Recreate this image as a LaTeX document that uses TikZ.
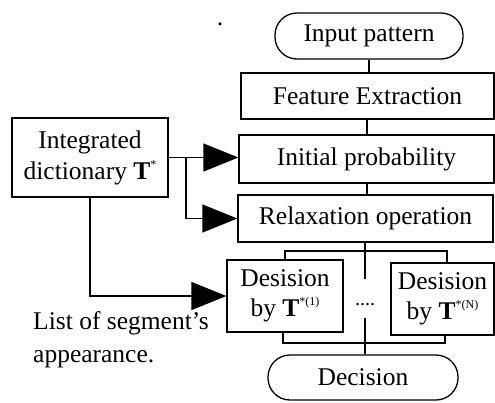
\documentclass[tikz,border=0pt]{standalone}
\usepackage{fontspec}
\setmainfont{Liberation Serif}
\usetikzlibrary{arrows.meta}
\newcommand{\tsup}[1]{\textbf{T}\raisebox{0.42em}{\fontsize{12}{12}\selectfont #1}}
\begin{document}
\begin{tikzpicture}[x=1pt,y=-1pt,
  every node/.style={font=\fontsize{25.5}{31}\selectfont},
  box/.style={draw,line width=1.3pt,rectangle,inner sep=0pt,align=center},
  term/.style={box,rounded corners=22pt},
  wire/.style={line width=1.3pt},
  bigarrow/.style={wire,-{Triangle[length=35pt,width=28pt]}}]
\useasboundingbox (0,0) rectangle (495,402);
% nodes
\node[term,minimum width=188pt,minimum height=46pt] (inp) at (369,36) {Input pattern};
\node[box,minimum width=253pt,minimum height=46pt] (fe) at (367.5,96) {Feature Extraction};
\node[box,minimum width=255pt,minimum height=48pt] (ip) at (366.5,159) {Initial probability};
\node[box,minimum width=255pt,minimum height=47pt] (rx) at (365.5,218.5) {Relaxation operation};
\node[box,minimum width=116pt,minimum height=72pt] (d1) at (285,296) {Desision\\[-1pt]by \tsup{*(1)}};
\node[box,minimum width=103pt,minimum height=72pt] (dN) at (442.5,299) {Desision\\[-1pt]by \tsup{*(N)}};
\node[term,minimum width=190pt,minimum height=45pt] (dec) at (363,377.5) {Decision};
\node[box,minimum width=156pt,minimum height=79pt] (dict) at (90,157.5) {Integrated\\dictionary \tsup{*}};
\node[anchor=north west,inner sep=0pt,align=left,font=\fontsize{25.5}{33}\selectfont] (list) at (33,311) {List of segment{\char"27}s\\appearance.};
\node[anchor=base,inner sep=0pt] (dot) at (220,25) {.};
\node[inner sep=0pt,font=\fontsize{20}{20}\selectfont] (dots) at (365,305) {....};
% coordinates
\coordinate (c1) at (365,279);
\coordinate (c2) at (365,318);
\coordinate (tb) at (365,251);
\coordinate (bb) at (365,343);
\coordinate (br) at (186,157.5);
% main column
\draw[wire] (inp.south) -- (inp.south |- fe.north);
\draw[wire] (367,0 |- fe.south) -- (367,0 |- ip.north);
\draw[wire] (367,0 |- ip.south) -- (367,0 |- rx.north);
\draw[wire] (rx.south -| c1) -- (c1);
\draw[wire] (c2) -- (dec.north -| c2);
% brackets
\draw[wire] (d1.north) -- (d1.north |- tb) -- (tb -| 447,0) -- (447,0 |- dN.north);
\draw[wire] (283,0 |- d1.south) -- (283,0 |- bb) -- (bb -| 445,0) -- (445,0 |- dN.south);
% dictionary arrows
\draw[bigarrow] (dict.east) -- (dict.east -| ip.west);
\draw[bigarrow] (br) |- (rx.west);
\draw[bigarrow] (dict.south) |- (d1.west);
\end{tikzpicture}
\end{document}
